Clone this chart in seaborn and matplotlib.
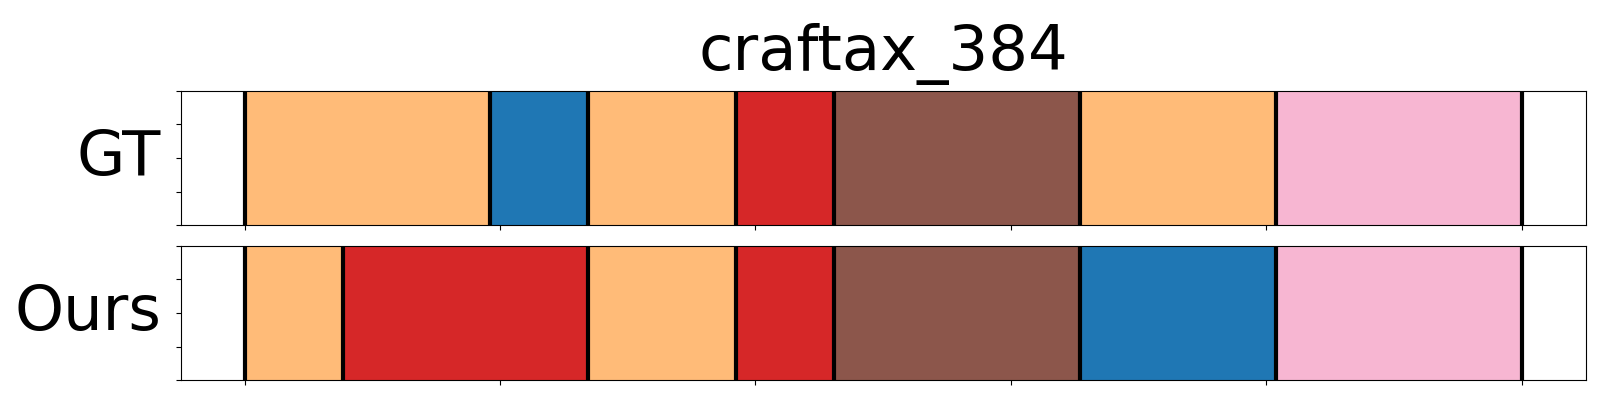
import numpy as np
import matplotlib
matplotlib.use("Agg")
import matplotlib.pyplot as plt
import seaborn as sns

title = "craftax_384"
row_names = ["GT", "Ours"]

# segment class (index into tab20) and segment length in frames
gt_classes = [3, 0, 3, 6, 10, 3, 13]
gt_lengths = [5, 2, 3, 2, 5, 4, 5]
ours_classes = [3, 6, 3, 6, 10, 0, 13]
ours_lengths = [2, 5, 3, 2, 5, 4, 5]

palette = sns.color_palette("tab20", 20)


def plot_segments(ax, classes, lengths, name):
    lengths = np.array(lengths, dtype=float)
    total = lengths.sum()
    bounds = np.concatenate([[0], np.cumsum(lengths)]) / total
    colors = [palette[c] for c in classes]
    ax.barh(0.5, lengths / total, left=bounds[:-1], height=1.0,
            color=colors, edgecolor=colors, linewidth=0.5)
    for b in bounds:
        ax.axvline(b, color="black", linewidth=3)
    ax.set_xlim(-0.05, 1.05)
    ax.set_ylim(0, 1)
    ax.set_xticks(np.linspace(0, 1, 6))
    ax.set_yticks(np.linspace(0, 1, 5))
    ax.set_xticklabels([])
    ax.set_yticklabels([])
    ax.set_ylabel(name, fontsize=45, rotation=0, ha="right", va="center")
    ax.yaxis.set_label_coords(-0.014, 0.5)


fig, axes = plt.subplots(2, 1, figsize=(16, 4), dpi=100)
plot_segments(axes[0], gt_classes, gt_lengths, row_names[0])
plot_segments(axes[1], ours_classes, ours_lengths, row_names[1])
axes[0].set_title(title, fontsize=45, pad=15)

plt.subplots_adjust(left=0.113, right=0.991, top=0.773, bottom=0.049, hspace=0.15)
plt.savefig("out.png", dpi=100)
